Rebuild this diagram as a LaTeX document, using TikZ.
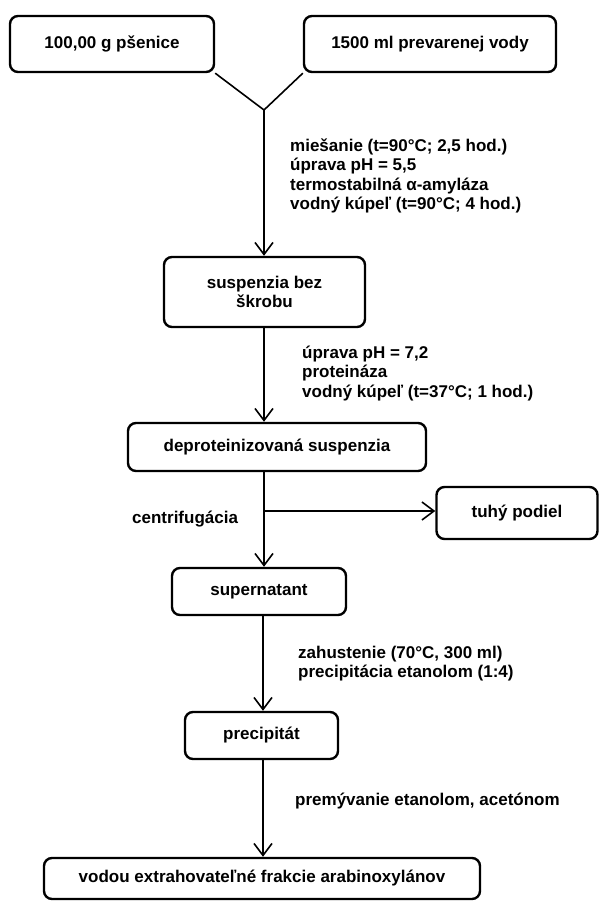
\documentclass[tikz,border=0pt]{standalone}
\usepackage{fontspec}
\setmainfont{Liberation Sans}
\usetikzlibrary{arrows.meta}
\begin{document}
\begin{tikzpicture}[x=1pt,y=-1pt,
  txt/.style={font=\fontsize{17}{19.5}\selectfont\bfseries},
  box/.style={draw, line width=2.4pt, rounded corners=8pt, inner sep=0pt, align=center, txt},
  lbl/.style={txt, align=left, anchor=west, inner sep=0pt},
  ln/.style={line width=1.6pt},
  arr/.style={line width=1.6pt, -{Straight Barb[length=12pt,width=18pt,line width=1.6pt]}}]
\useasboundingbox (0,0) rectangle (600,902);
% boxes
\node[box, minimum width=204pt, minimum height=56pt] (b1) at (112,44) {100,00 g pšenice};
\node[box, minimum width=252pt, minimum height=56pt] (b2) at (430,44) {1500 ml prevarenej vody};
\node[box, minimum width=201pt, minimum height=70pt] (b3) at (264.5,292) {suspenzia bez\\škrobu};
\node[box, minimum width=298pt, minimum height=48pt] (b4) at (277,447) {deproteinizovaná suspenzia};
\node[box, minimum width=161pt, minimum height=52pt] (b5) at (517,513) {tuhý podiel};
\node[box, minimum width=174pt, minimum height=47pt] (b6) at (259,591.5) {supernatant};
\node[box, minimum width=153pt, minimum height=47pt] (b7) at (261.5,735.5) {precipitát};
\node[box, minimum width=436pt, minimum height=41pt] (b8) at (262,878.5) {vodou extrahovateľné frakcie arabinoxylánov};
% helper coordinates
\coordinate (J) at (264,110);
\coordinate (X) at (264,0);
\coordinate (Y) at (263,0);
\coordinate (B) at (264,511);
% connectors
\draw[ln] (b1.south east) -- (J) -- (b2.south west);
\draw[arr] (J) -- (b3.north -| J);
\draw[arr] (b3.south -| X) -- (b4.north -| X);
\draw[arr] (b4.south -| X) -- (b6.north -| X);
\draw[arr] (B) -- (b5.west |- B);
\draw[arr] (b6.south -| Y) -- (b7.north -| Y);
\draw[arr] (b7.south -| Y) -- (b8.north -| Y);
% labels
\node[lbl] (t1) at (290,176) {miešanie (t=90°C; 2,5 hod.)\\úprava pH = 5,5\\termostabilná α-amyláza\\vodný kúpeľ (t=90°C; 4 hod.)};
\node[lbl] (t2) at (302,373.5) {úprava pH = 7,2\\proteináza\\vodný kúpeľ (t=37°C; 1 hod.)};
\node[lbl] (t3) at (132,519) {centrifugácia};
\node[lbl] (t4) at (298,663.5) {zahustenie (70°C, 300 ml)\\precipitácia etanolom (1:4)};
\node[lbl] (t5) at (295,801) {premývanie etanolom, acetónom};
\end{tikzpicture}
\end{document}
